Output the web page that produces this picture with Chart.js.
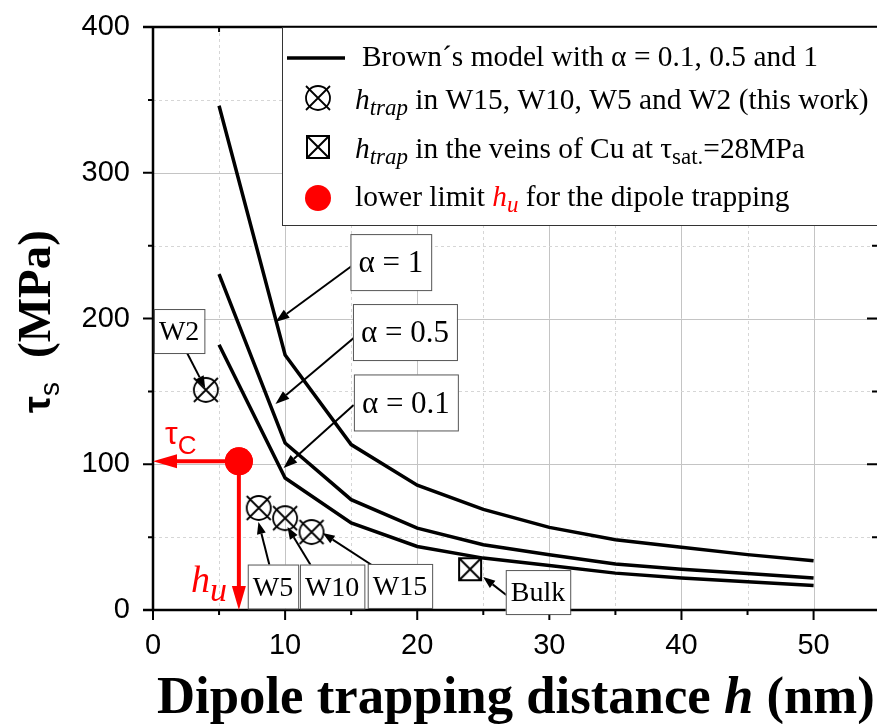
<!DOCTYPE html>
<html>
<head>
<meta charset="utf-8">
<script src="https://cdn.jsdelivr.net/npm/chart.js@4.4.1/dist/chart.umd.min.js"></script>
<style>
  html, body { margin: 0; padding: 0; background: #fff; overflow: hidden; }
  #wrap { width: 877px; height: 724px; position: relative; }
</style>
</head>
<body>
<div id="wrap"><canvas id="chart"></canvas></div>
<script>
// Brown's model curves, tau_s (MPa) against h (nm)
const hValues = [5, 10, 15, 20, 25, 30, 35, 40, 45, 50];
const alpha1  = [346, 175, 113.5, 85.6, 69, 56.7, 48.2, 43, 38, 33.8];
const alpha05 = [230.5, 114.6, 75.7, 56.2, 44.8, 37.9, 31.5, 28, 25, 21.9];
const alpha01 = [182, 90.6, 59.7, 43.6, 35.6, 30.6, 25.3, 21.9, 19.3, 16.8];

// h_trap measured in this work (W2, W5, W10, W15) and in Cu veins (bulk)
const workH   = [4, 8, 10, 12];
const workTau = [151, 70, 63, 53.5];
const bulkH   = [24];
const bulkTau = [28];
// lower limit h_u
const limitH   = [6.5];
const limitTau = [102];

const xTicks = [0, 10, 20, 30, 40, 50];
const yTicks = [0, 100, 200, 300, 400];
const xMax = 54.8;
const yMax = 400;

// annotation: text, box centre (x, y), arrow start (x, y), arrow tip (x, y) in data units
const alphaNotes = [
  ['α = 1',   18.0, 238.7, 15.04, 236.0, 9.27, 197.6],
  ['α = 0.5', 19.07, 190.7, 15.19, 186.6, 9.27, 141.3],
  ['α = 0.1', 19.14, 142.4, 15.19, 140.7, 9.88, 97.4]
];
const sampleNotes = [
  ['W2',   1.98, 191.4, 2.58, 176.3, 3.95, 152.3],
  ['W5',   9.08, 16.1, 8.81, 30.9, 7.98, 60.4],
  ['W10', 13.56, 16.1, 11.93, 30.9, 10.18, 56.9],
  ['W15', 18.69, 16.5, 16.79, 29.5, 12.84, 52.8],
  ['Bulk', 29.14, 12.3, 26.74, 10.3, 24.99, 22.6]
];

const SERIF = '"Liberation Serif", "DejaVu Serif", serif';
const SANS = '"Liberation Sans", Arial, sans-serif';
const RED = '#ff0000';

function circleX() {
  const c = document.createElement('canvas');
  c.width = c.height = 30;
  const g = c.getContext('2d');
  g.strokeStyle = '#000';
  g.lineWidth = 1.8;
  g.beginPath(); g.arc(15, 15, 12, 0, Math.PI * 2); g.stroke();
  g.beginPath(); g.moveTo(3, 3); g.lineTo(27, 27); g.moveTo(27, 3); g.lineTo(3, 27); g.stroke();
  return c;
}
function boxX() {
  const c = document.createElement('canvas');
  c.width = c.height = 26;
  const g = c.getContext('2d');
  g.strokeStyle = '#000';
  g.lineWidth = 2;
  g.strokeRect(2, 2, 22, 22);
  g.beginPath(); g.moveTo(2, 2); g.lineTo(24, 24); g.moveTo(24, 2); g.lineTo(2, 24); g.stroke();
  return c;
}
const markWork = circleX();
const markBulk = boxX();

function arrow(ctx, x1, y1, x2, y2, len, half, color, lw) {
  const a = Math.atan2(y2 - y1, x2 - x1);
  const bx = x2 - len * Math.cos(a), by = y2 - len * Math.sin(a);
  ctx.strokeStyle = color;
  ctx.lineWidth = lw;
  ctx.beginPath(); ctx.moveTo(x1, y1); ctx.lineTo(bx, by); ctx.stroke();
  ctx.fillStyle = color;
  ctx.beginPath();
  ctx.moveTo(x2, y2);
  ctx.lineTo(bx - half * Math.sin(a), by + half * Math.cos(a));
  ctx.lineTo(bx + half * Math.sin(a), by - half * Math.cos(a));
  ctx.closePath(); ctx.fill();
}

function rich(ctx, x, y, parts) {
  for (const p of parts) {
    ctx.font = p.f;
    ctx.fillStyle = p.c || '#000';
    ctx.fillText(p.t, x, y + (p.dy || 0));
    x += ctx.measureText(p.t).width;
  }
  return x;
}
function richWidth(ctx, parts) {
  let w = 0;
  for (const p of parts) { ctx.font = p.f; w += ctx.measureText(p.t).width; }
  return w;
}

function drawNote(ctx, xs, ys, n, font, pad, h, headLen, headHalf) {
  const [text, bx, by, fx, fy, tx, ty] = n;
  arrow(ctx, xs.getPixelForValue(fx), ys.getPixelForValue(fy),
        xs.getPixelForValue(tx), ys.getPixelForValue(ty), headLen, headHalf, '#000', 2);
  ctx.font = font;
  const w = ctx.measureText(text).width + pad * 2;
  const cx = xs.getPixelForValue(bx), cy = ys.getPixelForValue(by);
  ctx.fillStyle = '#fff';
  ctx.fillRect(cx - w / 2, cy - h / 2, w, h);
  ctx.strokeStyle = '#555';
  ctx.lineWidth = 1;
  ctx.strokeRect(cx - w / 2 + 0.5, cy - h / 2 + 0.5, w, h);
  ctx.fillStyle = '#000';
  ctx.textAlign = 'center';
  ctx.textBaseline = 'middle';
  ctx.fillText(text, cx, cy + 2);
  ctx.textAlign = 'left';
  ctx.textBaseline = 'alphabetic';
}

const decor = {
  id: 'decor',
  beforeDatasetsDraw(chart) {
    const ctx = chart.ctx, a = chart.chartArea;
    const xs = chart.scales.x, ys = chart.scales.y;
    ctx.save();
    // grid
    for (let v = 5; v < xMax; v += 5) {
      const p = Math.round(xs.getPixelForValue(v)) + 0.5;
      const major = v % 10 === 0;
      ctx.strokeStyle = major ? '#c4c4c4' : '#d6d6d6';
      ctx.lineWidth = 1;
      ctx.setLineDash(major ? [] : [3, 3]);
      ctx.beginPath(); ctx.moveTo(p, a.top); ctx.lineTo(p, a.bottom); ctx.stroke();
    }
    for (let v = 50; v < yMax; v += 50) {
      const p = Math.round(ys.getPixelForValue(v)) + 0.5;
      const major = v % 100 === 0;
      ctx.strokeStyle = major ? '#c4c4c4' : '#d6d6d6';
      ctx.lineWidth = 1;
      ctx.setLineDash(major ? [] : [3, 3]);
      ctx.beginPath(); ctx.moveTo(a.left, p); ctx.lineTo(a.right, p); ctx.stroke();
    }
    ctx.restore();
  },
  afterDatasetsDraw(chart) {
    const ctx = chart.ctx, a = chart.chartArea;
    const xs = chart.scales.x, ys = chart.scales.y;
    ctx.save();
    // frame and ticks
    ctx.strokeStyle = '#000';
    ctx.lineWidth = 2.5;
    ctx.beginPath();
    ctx.moveTo(a.left, a.top); ctx.lineTo(a.left, a.bottom);
    ctx.moveTo(a.left - 10, a.bottom); ctx.lineTo(a.right, a.bottom);
    ctx.moveTo(a.left - 10, a.top); ctx.lineTo(a.right, a.top);
    ctx.stroke();
    ctx.lineWidth = 2;
    ctx.beginPath();
    for (let v = 0; v <= xMax; v += 5) {
      const p = xs.getPixelForValue(v);
      const l = v % 10 === 0 ? 10 : 5;
      ctx.moveTo(p, a.bottom); ctx.lineTo(p, a.bottom + l);
      ctx.moveTo(p, a.top); ctx.lineTo(p, a.top + l);
    }
    for (let v = 0; v <= yMax; v += 50) {
      const p = ys.getPixelForValue(v);
      const l = v % 100 === 0 ? 10 : 5;
      ctx.moveTo(a.left, p); ctx.lineTo(a.left - l, p);
      ctx.moveTo(a.right, p); ctx.lineTo(a.right - l, p);
    }
    ctx.stroke();

    // lower limit arrows
    const px = xs.getPixelForValue(limitH[0]), py = ys.getPixelForValue(limitTau[0]);
    arrow(ctx, px, py, a.left, py, 24, 7, RED, 4);
    arrow(ctx, px, py, px, a.bottom, 24, 7, RED, 4);
    ctx.fillStyle = RED;
    ctx.beginPath(); ctx.arc(px, py, 14, 0, Math.PI * 2); ctx.fill();
    rich(ctx, 165, 444, [
      { t: 'τ', f: '32px ' + SANS, c: RED },
      { t: 'C', f: '26px ' + SANS, c: RED, dy: 10 }
    ]);
    rich(ctx, 191, 592, [
      { t: 'h', f: 'italic 38px ' + SERIF, c: RED },
      { t: 'u', f: 'italic 34px ' + SERIF, c: RED, dy: 9 }
    ]);

    // annotations
    for (const n of alphaNotes) drawNote(ctx, xs, ys, n, '31px ' + SERIF, 8, 56, 14, 5);
    for (const n of sampleNotes) drawNote(ctx, xs, ys, n, '28px ' + SERIF, 5, 44, 12, 4.5);
    ctx.restore();
  },
  afterDraw(chart) {
    const ctx = chart.ctx, a = chart.chartArea;
    ctx.save();
    // legend
    const L = { x: 282, y: a.top, w: 877 - 282 + 2, h: 225 - a.top };
    ctx.fillStyle = '#fff';
    ctx.fillRect(L.x, L.y, L.w, L.h);
    ctx.strokeStyle = '#333';
    ctx.lineWidth = 1;
    ctx.strokeRect(L.x + 0.5, L.y + 0.5, L.w, L.h);

    ctx.font = '100px ' + SERIF;
    const row1 = 'Brown´s model with α = 0.1, 0.5 and 1';
    const s = 100 * 456 / ctx.measureText(row1).width;
    const F = s + 'px ' + SERIF, FI = 'italic ' + s + 'px ' + SERIF;
    const FS = 'italic ' + (s * 0.78) + 'px ' + SERIF, FSU = (s * 0.78) + 'px ' + SERIF;

    ctx.strokeStyle = '#000';
    ctx.lineWidth = 3.5;
    ctx.beginPath(); ctx.moveTo(287, 58); ctx.lineTo(345, 58); ctx.stroke();
    rich(ctx, 362, 66, [{ t: row1, f: F }]);

    ctx.drawImage(markWork, 318 - 15, 98 - 15);
    rich(ctx, 355, 109, [
      { t: 'h', f: FI }, { t: 'trap', f: FS, dy: 6 },
      { t: ' in W15, W10, W5 and W2 (this work)', f: F }
    ]);

    ctx.drawImage(markBulk, 318 - 13, 147 - 13);
    rich(ctx, 355, 158, [
      { t: 'h', f: FI }, { t: 'trap', f: FS, dy: 6 },
      { t: ' in the veins of Cu at τ', f: F }, { t: 'sat.', f: FSU, dy: 6 },
      { t: '=28MPa', f: F }
    ]);

    ctx.fillStyle = RED;
    ctx.beginPath(); ctx.arc(318, 198, 13, 0, Math.PI * 2); ctx.fill();
    rich(ctx, 355, 206, [
      { t: 'lower limit ', f: F }, { t: 'h', f: FI, c: RED }, { t: 'u', f: FS, c: RED, dy: 6 },
      { t: ' for the dipole trapping', f: F }
    ]);

    // x axis title
    const xt = s2 => [
      { t: 'Dipole trapping distance ', f: 'bold ' + s2 + 'px ' + SERIF },
      { t: 'h', f: 'bold italic ' + s2 + 'px ' + SERIF },
      { t: ' (nm)', f: 'bold ' + s2 + 'px ' + SERIF }
    ];
    const xs2 = 100 * 718 / richWidth(ctx, xt(100));
    rich(ctx, 157, 713, xt(xs2));

    // y axis title
    ctx.translate(50, 320);
    ctx.rotate(-Math.PI / 2);
    rich(ctx, -93, 0, [
      { t: 'τ', f: 'bold 38px ' + SANS },
      { t: 's', f: '28px ' + SANS, dy: 9 }
    ]);
    rich(ctx, -38, 0, [{ t: '(MPa)', f: 'bold 47px ' + SERIF }]);
    ctx.restore();
  }
};

const pts = (xs, ys) => xs.map((x, i) => ({ x: x, y: ys[i] }));
const curve = (label, vals) => ({
  label: label,
  data: pts(hValues, vals),
  showLine: true,
  borderColor: '#000',
  borderWidth: 3.5,
  pointRadius: 0,
  fill: false
});

new Chart(document.getElementById('chart'), {
  type: 'scatter',
  data: {
    datasets: [
      { label: 'lower limit h_u', data: pts(limitH, limitTau), pointStyle: 'circle', pointRadius: 14,
        backgroundColor: RED, borderColor: RED, borderWidth: 0 },
      { label: 'h_trap this work', data: pts(workH, workTau), pointStyle: markWork, pointRadius: 15 },
      { label: 'h_trap Cu veins', data: pts(bulkH, bulkTau), pointStyle: markBulk, pointRadius: 13 },
      curve('α = 1', alpha1),
      curve('α = 0.5', alpha05),
      curve('α = 0.1', alpha01)
    ]
  },
  options: {
    responsive: true,
    maintainAspectRatio: false,
    animation: false,
    events: [],
    layout: { autoPadding: false, padding: { top: 27, right: 0, left: 0, bottom: 0 } },
    plugins: { legend: { display: false }, tooltip: { enabled: false } },
    scales: {
      x: {
        type: 'linear', min: 0, max: xMax,
        grid: { display: false, drawTicks: false },
        border: { display: false },
        ticks: {
          padding: 19, color: '#000', maxRotation: 0, autoSkip: false,
          font: { family: SANS, size: 29 }
        },
        afterBuildTicks: s => { s.ticks = xTicks.map(v => ({ value: v })); },
        afterFit: s => { s.height = 114; s.paddingLeft = 0; s.paddingRight = 0; }
      },
      y: {
        type: 'linear', min: 0, max: yMax,
        grid: { display: false, drawTicks: false },
        border: { display: false },
        ticks: {
          padding: 23, color: '#000',
          font: { family: SANS, size: 29 }
        },
        afterBuildTicks: s => { s.ticks = yTicks.map(v => ({ value: v })); },
        afterFit: s => { s.width = 153; s.paddingTop = 0; s.paddingBottom = 0; }
      }
    }
  },
  plugins: [decor]
});
</script>
</body>
</html>
